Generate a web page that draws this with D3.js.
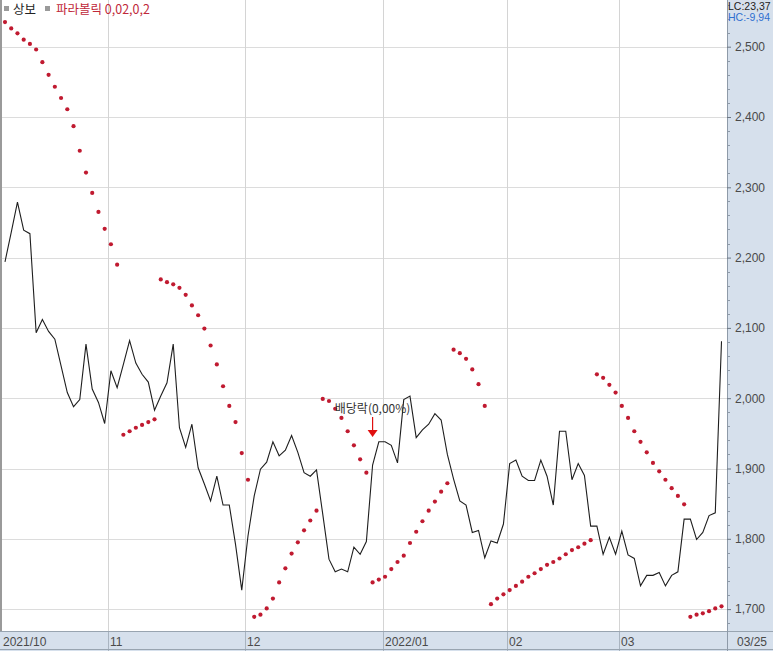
<!DOCTYPE html>
<html><head><meta charset="utf-8">
<script src="https://cdn.jsdelivr.net/npm/d3@7/dist/d3.min.js"></script>
<style>body{margin:0;background:#fff;overflow:hidden}svg{display:block}</style>
</head><body><svg id="c" width="773" height="651"></svg>
<script>
// ---- data ----
const closes = [2194,2236,2279,2239,2234,2093,2112,2095,2084,2046,2008,1988,1998,2077,2013,1994,1964,
2039,2015,2048,2082,2050,2034,2023,1983,2003,2022,2077,1958,1930,1963,1901,1878,1854,1889,1848,1848,1792,1727,
1804,1861,1899,1909,1938,1918,1926,1947,1923,1894,1889,1898,1835,1771,1753,1757,1753,1788,1778,1796,1905,1938,
1938,1933,1908,1998,2003,1944,1955,1963,1978,1969,1920,1885,1854,1848,1809,1812,1773,1797,1794,1821,
1907,1912,1889,1883,1883,1912,1889,1848,1953,1953,1884,1907,1890,1818,1818,1778,1802,1778,
1811,1777,1772,1733,1748,1748,1752,1733,1748,1753,1828,1828,1799,1809,1833,1837,2081];
const sar = [2535,2526,2519,2510,2504,2496,2478,2460,2443,2427,2411,2387,2352,2321,2292,2265,2241,
2219,2190,1948,1953,1958,1962,1966,1970,2169,2165,2162,2157,2147,2132,2118,2099,2075,2048,2017,1989,1966,1922,
1884,1689,1692,1701,1715,1738,1758,1779,1795,1812,1826,1840,1999,1996,1985,1972,1953,1933,1913,1894,1738,1742,
1746,1757,1767,1776,1794,1810,1825,1840,1853,1867,1879,2069,2064,2056,2041,2020,1989,1707,1715,1721,
1727,1733,1739,1746,1751,1757,1763,1767,1772,1778,1784,1788,1793,1798,2034,2029,2019,2008,
1989,1972,1953,1938,1923,1908,1896,1884,1872,1861,1849,1689,1692,1694,1697,1701,1704];
const monthLabels = ["2021/10","11","12","2022/01","02","03"];
const monthStartIdx = [0,17,39,61,81,99];
const lastLabel = "03/25";
const yTicks = [1700,1800,1900,2000,2100,2200,2300,2400,2500];
const dividendIdx = 59;
const dividendText = "배당락(0,00%)";
const legendItems = ["상보","파라볼릭 0,02,0,2"];
const infoTexts = ["LC:23,37","HC:-9,94"];

// ---- layout ----
const svg = d3.select("#c");
const W=773,H=651, plotR=727, plotB=631;
const x = d3.scaleLinear().domain([-0.4, closes.length-0.6]).range([2.5, 724]);
const y = d3.scaleLinear().domain([1700,2500]).range([609.1,46.7]);
const font = "'Noto Sans CJK KR','Liberation Sans',Arial,sans-serif";
const afont = "'Liberation Sans',Arial,sans-serif";

// right panel & bottom band
svg.append("rect").attr("x",plotR).attr("y",0).attr("width",W-plotR).attr("height",H).attr("fill","#d6e0ec");
svg.append("rect").attr("x",0).attr("y",plotB).attr("width",W).attr("height",H-plotB).attr("fill","#d6e0ec");

// grid
const g = svg.append("g");
g.selectAll(".hg").data(yTicks).join("line")
 .attr("x1",0).attr("x2",plotR).attr("y1",d=>Math.round(y(d))+0.5).attr("y2",d=>Math.round(y(d))+0.5)
 .attr("stroke","#dcdcdc").attr("stroke-width",1);
g.selectAll(".vg").data(monthStartIdx.slice(1)).join("line")
 .attr("x1",d=>Math.round(x(d-0.4))+0.5).attr("x2",d=>Math.round(x(d-0.4))+0.5).attr("y1",0).attr("y2",H)
 .attr("stroke","#d4d4d4").attr("stroke-width",1);
g.selectAll(".vs").data(monthStartIdx.slice(1)).join("line")
 .attr("x1",d=>Math.round(x(d-0.4))+0.5).attr("x2",d=>Math.round(x(d-0.4))+0.5).attr("y1",plotB).attr("y2",H)
 .attr("stroke","#a9b4c0").attr("stroke-width",1);

// borders
svg.append("line").attr("x1",0).attr("x2",W).attr("y1",plotB+0.5).attr("y2",plotB+0.5).attr("stroke","#98a4b0");
svg.append("line").attr("x1",0).attr("x2",W).attr("y1",H-1.5).attr("y2",H-1.5).attr("stroke","#98a4b0");
svg.append("line").attr("x1",plotR+0.5).attr("x2",plotR+0.5).attr("y1",0).attr("y2",H).attr("stroke","#8e9aa8");
svg.append("rect").attr("x",0).attr("y",0).attr("width",2).attr("height",plotB).attr("fill","#9a9a9a");

// y axis
const yAxis = d3.axisRight(y).tickValues(yTicks).tickSize(4).tickFormat(d3.format(","));
const ya = svg.append("g").attr("transform",`translate(${plotR},0)`).call(yAxis);
ya.select(".domain").remove();
ya.selectAll(".tick line").attr("stroke","#6d7885");
ya.selectAll(".tick text").attr("x",8).attr("fill","#4a4a4a").style("font-family",afont).style("font-size","12px");
const minor = d3.range(1680,2581,20).filter(v=>v%100!==0);
svg.append("g").selectAll("line").data(minor).join("line")
 .attr("x1",plotR).attr("x2",plotR+3).attr("y1",d=>Math.round(y(d))+0.5).attr("y2",d=>Math.round(y(d))+0.5)
 .attr("stroke","#8e9aa8");

// x labels
svg.append("g").selectAll("text").data(monthLabels).join("text")
 .attr("x",(d,i)=> i===0 ? 3 : Math.round(x(monthStartIdx[i]-0.4))+2)
 .attr("y",646).text(d=>d)
 .attr("fill","#4a4a4a").style("font-family",afont).style("font-size","12px");
svg.append("text").attr("x",737).attr("y",646).text(lastLabel)
 .attr("fill","#4a4a4a").style("font-family",afont).style("font-size","12px");

// clip for plot
svg.append("clipPath").attr("id","pc").append("rect").attr("x",2).attr("y",0).attr("width",plotR-2).attr("height",plotB);
const p = svg.append("g").attr("clip-path","url(#pc)");

p.append("path").datum(closes)
 .attr("d",d3.line().x((d,i)=>x(i)).y(d=>y(d)))
 .attr("fill","none").attr("stroke","#1e1e1e").attr("stroke-width",1.1);

p.selectAll(".sar").data(sar).join("circle")
 .attr("cx",(d,i)=>x(i)).attr("cy",d=>y(d)).attr("r",2.1).attr("fill","#c01a30");

// dividend annotation
const ax = x(dividendIdx);
svg.append("text").attr("x",ax).attr("y",413).attr("text-anchor","middle").text(dividendText)
 .attr("fill","#333").style("font-family",font).style("font-size","12px");
svg.append("line").attr("x1",ax).attr("x2",ax).attr("y1",417).attr("y2",431).attr("stroke","#e01010").attr("stroke-width",1.2);
svg.append("path").attr("d",`M${ax-5},430 L${ax+5},430 L${ax},437 Z`).attr("fill","#e01010");

// legend
const lg = svg.append("g");
lg.append("rect").attr("x",4).attr("y",6).attr("width",5).attr("height",5).attr("fill","#9a9a9a");
lg.append("text").attr("x",13).attr("y",14).text(legendItems[0]).attr("fill","#222")
 .style("font-family",font).style("font-size","12.5px");
lg.append("rect").attr("x",45).attr("y",6).attr("width",5).attr("height",5).attr("fill","#9a9a9a");
lg.append("text").attr("x",56).attr("y",14).text(legendItems[1]).attr("fill","#c0283a")
 .style("font-family",font).style("font-size","12.5px");

// top-right info
svg.append("text").attr("x",728).attr("y",10).text(infoTexts[0]).attr("fill","#222")
 .style("font-family",afont).style("font-size","10.5px");
svg.append("text").attr("x",728).attr("y",21).text(infoTexts[1]).attr("fill","#2f6fd0")
 .style("font-family",afont).style("font-size","10.5px");
</script></body></html>
